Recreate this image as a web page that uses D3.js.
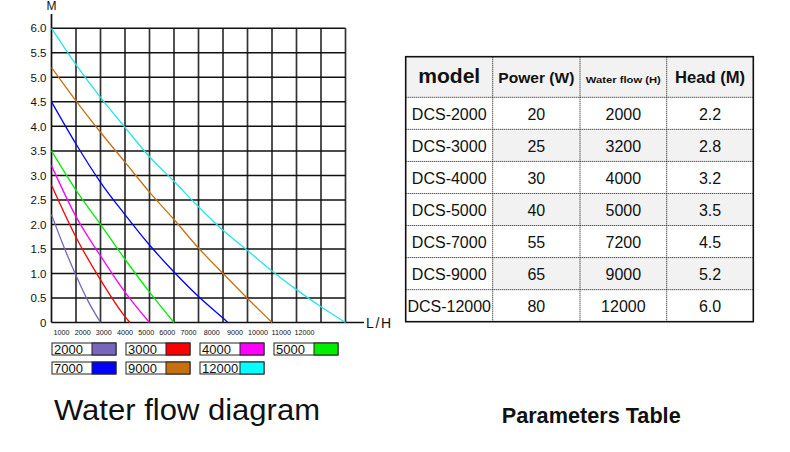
<!DOCTYPE html>
<html>
<head>
<meta charset="utf-8">
<script src="https://cdn.jsdelivr.net/npm/d3@7"></script>
<style>
  html, body { margin: 0; padding: 0; background: #fff; }
  svg { display: block; }
  text { font-family: "Liberation Sans", Arial, sans-serif; fill: #111; }
</style>
</head>
<body>
<svg id="chart" width="790" height="452"></svg>
<script>
// ---------- DATA ----------
const legendLabels = ["2000", "3000", "4000", "5000", "7000", "9000", "12000"];
// flow (L/H), head (M)
const curve2000  = [[0,2.2],[500,1.55],[1000,0.96],[1500,0.43],[2000,0]];
const curve3000  = [[0,2.8],[1000,1.74],[2000,0.87],[3000,0.12],[3200,0]];
const curve4000  = [[0,3.2],[1000,2.16],[2000,1.36],[3000,0.62],[4000,0]];
const curve5000  = [[0,3.5],[1000,2.7],[2000,2.0],[3000,1.29],[4000,0.62],[5000,0]];
const curve7000  = [[0,4.5],[1000,3.64],[2000,2.86],[3000,2.2],[4000,1.58],[5000,1.03],[6000,0.53],[7000,0.09],[7200,0]];
const curve9000  = [[0,5.2],[1000,4.52],[2000,3.88],[3000,3.27],[4000,2.66],[5000,2.1],[6000,1.52],[7000,1.0],[8000,0.49],[9000,0]];
const curve12000 = [[0,6.0],[1000,5.26],[2000,4.59],[3000,3.98],[4000,3.38],[5000,2.88],[6000,2.36],[7000,1.88],[8000,1.47],[9000,1.05],[10000,0.67],[11000,0.32],[12000,0]];
const curves = [curve2000, curve3000, curve4000, curve5000, curve7000, curve9000, curve12000];

const xTickLabels = [1000,2000,3000,4000,5000,6000,7000,8000,9000,10000,11000,12000];
const yTickValues = [0,0.5,1,1.5,2,2.5,3,3.5,4,4.5,5,5.5,6];

const tableHeaders = ["model", "Power (W)", "Water flow (H)", "Head (M)"];
const models = ["DCS-2000","DCS-3000","DCS-4000","DCS-5000","DCS-7000","DCS-9000","DCS-12000"];
const power  = [20, 25, 30, 40, 55, 65, 80];
const waterFlow = [2000, 3200, 4000, 5000, 7200, 9000, 12000];
const head = ["2.2","2.8","3.2","3.5","4.5","5.2","6.0"];

// ---------- STYLE ----------
const palette = ["#7766bb", "#ff0000", "#ff00ff", "#00ee00", "#0000ff", "#c8700f", "#22e6e6"];
const legendPalette = ["#7766bb", "#ff0000", "#ff00ff", "#00ee00", "#0000ff", "#c8700f", "#00ffff"];

const svg = d3.select("#chart");

// ---------- CHART ----------
const x = d3.scaleLinear().domain([0, 12000]).range([51.5, 345.5]);
const y = d3.scaleLinear().domain([0, 6]).range([322.5, 28.3]);

const grid = svg.append("g");
grid.selectAll("line.v").data(d3.range(1000, 12001, 1000)).join("line")
  .attr("x1", d => x(d)).attr("x2", d => x(d))
  .attr("y1", y(0)).attr("y2", y(6))
  .attr("stroke", "#333").attr("stroke-width", 1.7);
grid.selectAll("line.h").data(yTickValues.filter(d => d > 0)).join("line")
  .attr("x1", x(0)).attr("x2", x(12000))
  .attr("y1", d => y(d)).attr("y2", d => y(d))
  .attr("stroke", "#111").attr("stroke-width", 1.5);

// axes lines (extended)
svg.append("line").attr("x1", x(0)).attr("x2", x(0)).attr("y1", y(0)).attr("y2", 14)
  .attr("stroke", "#111").attr("stroke-width", 1.7);
svg.append("line").attr("x1", x(0)).attr("x2", 364).attr("y1", y(0)).attr("y2", y(0))
  .attr("stroke", "#111").attr("stroke-width", 1.7);

// y axis labels
const yAxis = d3.axisLeft(y).tickValues(yTickValues).tickSize(0).tickPadding(5)
  .tickFormat(d => d === 0 ? "0" : d.toFixed(1));
const gy = svg.append("g").attr("transform", `translate(${x(0)},0)`).call(yAxis);
gy.select(".domain").remove();
gy.selectAll("text").attr("font-size", "11.5px").attr("fill", "#111")
  .attr("font-family", "Liberation Sans, Arial, sans-serif");

// x axis labels (printed slightly offset from grid in the original)
const xLabelScale = d3.scaleLinear().domain([1000, 7000, 12000]).range([61, 188, 304]);
const xAxis = d3.axisBottom(xLabelScale).tickValues(xTickLabels).tickSize(0).tickPadding(7.5)
  .tickFormat(d => String(d));
const gx = svg.append("g").attr("transform", `translate(0,${y(0)})`).call(xAxis);
gx.select(".domain").remove();
gx.selectAll("text").attr("font-size", "7.2px").attr("fill", "#222")
  .attr("font-family", "Liberation Sans, Arial, sans-serif");

svg.append("text").attr("x", x(0)).attr("y", 10).attr("text-anchor", "middle")
  .attr("font-size", "12px").text("M");
svg.append("text").attr("x", 366).attr("y", 327.5)
  .attr("font-size", "14px").attr("textLength", 25).attr("lengthAdjust", "spacing").text("L/H");

// curves
const line = d3.line().x(d => x(d[0])).y(d => y(d[1])).curve(d3.curveMonotoneX);
svg.append("g").selectAll("path").data(curves).join("path")
  .attr("d", line).attr("fill", "none")
  .attr("stroke", (d, i) => palette[i]).attr("stroke-width", 1.3);

// legend
const lg = svg.append("g");
const item = lg.selectAll("g").data(legendLabels).join("g")
  .attr("transform", (d, i) => `translate(${52 + (i % 4) * 74},${343 + Math.floor(i / 4) * 19})`);
item.append("rect").attr("width", 64).attr("height", 12).attr("fill", "#fff")
  .attr("stroke", "#222").attr("stroke-width", 1);
item.append("rect").attr("x", 40).attr("width", 24).attr("height", 12)
  .attr("fill", (d, i) => legendPalette[i]).attr("stroke", "#222").attr("stroke-width", 1);
item.append("text").attr("x", 2).attr("y", 10.5).attr("font-size", "13px").text(d => d);

// title
svg.append("text").attr("x", 54).attr("y", 420)
  .attr("font-family", "Open Sans, sans-serif").attr("font-size", "29px")
  .attr("textLength", 266).attr("lengthAdjust", "spacingAndGlyphs")
  .text("Water flow diagram");

// ---------- TABLE ----------
const colX = [405.7, 492.7, 580, 666.7, 753.3];
const headerTop = 56.7, headerBottom = 97.3, tableBottom = 321.7;
const rowY = d3.scaleBand().domain(models).range([headerBottom, tableBottom]);
const tg = svg.append("g");
const greyRows = ["DCS-3000", "DCS-5000", "DCS-9000"];

tg.append("rect").attr("x", colX[0]).attr("y", headerTop)
  .attr("width", colX[4] - colX[0]).attr("height", headerBottom - headerTop).attr("fill", "#f2f2f2");
tg.selectAll("rect.row").data(models.filter(m => greyRows.includes(m))).join("rect")
  .attr("x", colX[1]).attr("y", d => rowY(d))
  .attr("width", colX[4] - colX[1]).attr("height", rowY.bandwidth()).attr("fill", "#f2f2f2");

// dotted inner lines
tg.selectAll("line.cv").data(colX.slice(1, 4)).join("line")
  .attr("x1", d => d).attr("x2", d => d).attr("y1", headerTop).attr("y2", tableBottom)
  .attr("stroke", "#111").attr("stroke-width", 1).attr("stroke-dasharray", "1,1");
tg.selectAll("line.rh").data(models).join("line")
  .attr("x1", colX[0]).attr("x2", colX[4]).attr("y1", d => rowY(d)).attr("y2", d => rowY(d))
  .attr("stroke", "#111").attr("stroke-width", 1).attr("stroke-dasharray", "1,1");
tg.append("rect").attr("x", colX[0]).attr("y", headerTop)
  .attr("width", colX[4] - colX[0]).attr("height", tableBottom - headerTop)
  .attr("fill", "none").attr("stroke", "#111").attr("stroke-width", 1.6);

// header text
const headerStyle = [
  { size: 21, len: 62 }, { size: 15.5, len: 76 }, { size: 9.5, len: 75 }, { size: 16.5, len: 70 }
];
tg.selectAll("text.hd").data(tableHeaders).join("text")
  .attr("x", (d, i) => (colX[i] + colX[i + 1]) / 2).attr("y", 83.3)
  .attr("text-anchor", "middle").attr("font-weight", "bold")
  .attr("font-size", (d, i) => headerStyle[i].size + "px")
  .attr("textLength", (d, i) => headerStyle[i].len).attr("lengthAdjust", "spacingAndGlyphs")
  .text(d => d);

// body text
const cols = [models, power, waterFlow, head];
cols.forEach((col, ci) => {
  tg.selectAll("text.c" + ci).data(col).join("text")
    .attr("x", (colX[ci] + colX[ci + 1]) / 2)
    .attr("y", (d, ri) => rowY(models[ri]) + rowY.bandwidth() / 2 + 6.8)
    .attr("text-anchor", "middle").attr("font-size", "16px").attr("fill", "#1a1a1a")
    .text(d => d);
});

svg.append("text").attr("x", 501.7).attr("y", 423)
  .attr("font-family", "Lato, Open Sans, sans-serif").attr("font-weight", "bold").attr("font-size", "22px")
  .attr("textLength", 179).attr("lengthAdjust", "spacingAndGlyphs")
  .text("Parameters Table");
</script>
</body>
</html>
